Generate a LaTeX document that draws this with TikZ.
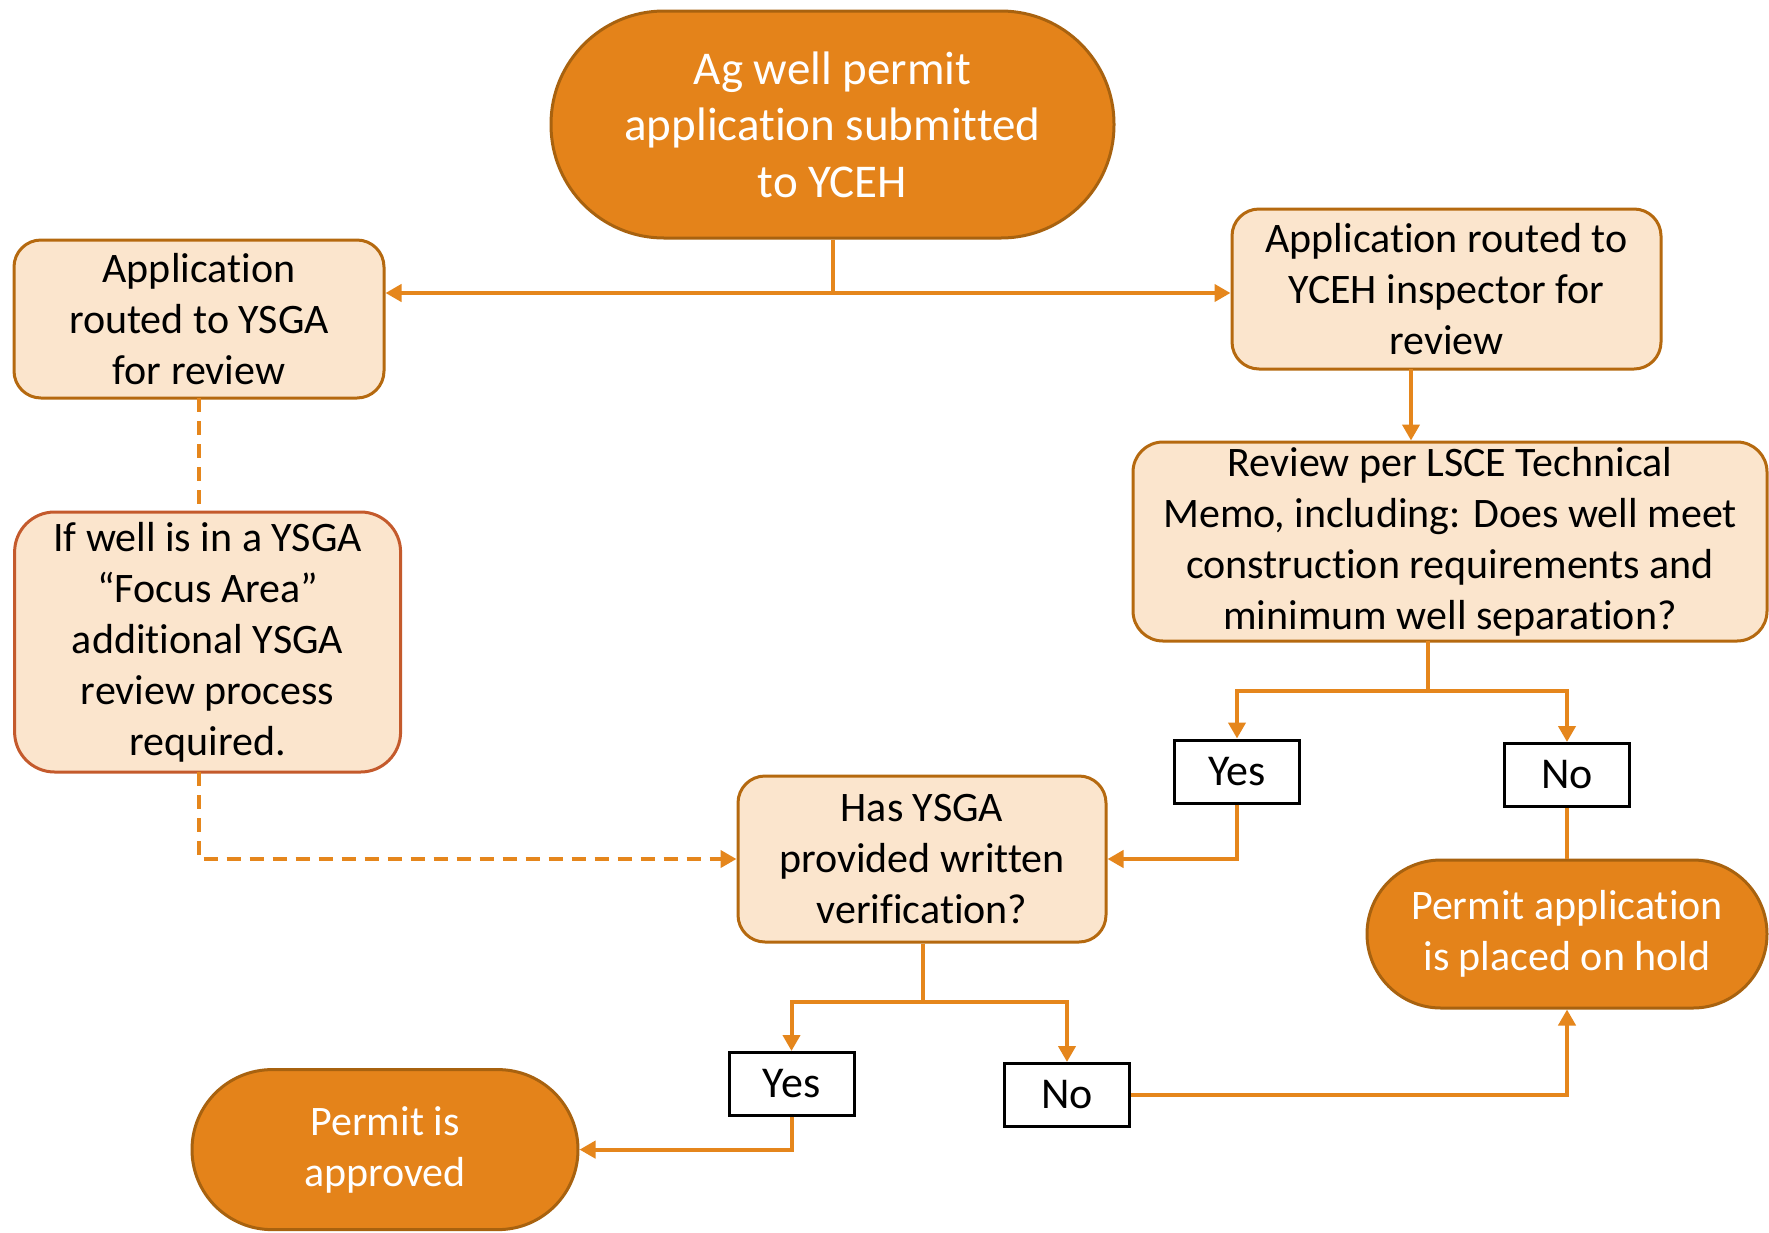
\documentclass[tikz,border=0pt]{standalone}
\usepackage{fontspec}
\setmainfont{Carlito}[Ligatures={TeX,NoCommon}]
\usetikzlibrary{arrows.meta}
\definecolor{orfill}{HTML}{E4831A}
\definecolor{orborder}{HTML}{A8620F}
\definecolor{peach}{HTML}{FBE5CD}
\definecolor{peachborder}{HTML}{B5690F}
\definecolor{redborder}{HTML}{C45A2C}
\definecolor{conn}{HTML}{E5861C}
\begin{document}
\begin{tikzpicture}[x=1pt,y=-1pt,
  term/.style={draw=orborder, fill=orfill, line width=3pt, text=white, align=center, inner sep=0pt},
  proc/.style={draw=peachborder, fill=peach, line width=3pt, rounded corners=27pt, align=center, inner sep=0pt, font=\fontsize{42}{51}\selectfont},
  lab/.style={draw=black, fill=white, line width=3pt, inner sep=0pt, minimum width=125pt, minimum height=63pt, font=\fontsize{44}{50}\selectfont},
  arr/.style={draw=conn, line width=4pt, -{Triangle[length=16pt,width=17pt]}},
  ln/.style={draw=conn, line width=4pt},
  dsh/.style={draw=conn, line width=4pt, dash pattern=on 14pt off 9pt}]
\useasboundingbox (0,0) rectangle (1769,1232);
\fill[white] (0,0) rectangle (1769,1232);

\node[term, minimum width=563pt, minimum height=227pt, rounded corners=113pt, font=\fontsize{47}{56.5}\selectfont] (start) at (832.5,124.5) {Ag well permit\\application submitted\\to YCEH};

\node[proc, minimum width=370pt, minimum height=158pt] (ysga) at (199,319) {Application\\routed to YSGA\\for review};
\node[proc, minimum width=429pt, minimum height=160pt] (yceh) at (1446.5,289) {Application routed to\\YCEH inspector for\\review};
\node[proc, minimum width=634pt, minimum height=199pt, rounded corners=30pt] (lsce) at (1450,541.5) {Review per LSCE Technical\\Memo, including: Does well meet\\construction requirements and\\minimum well separation?};
\node[proc, draw=redborder, minimum width=386pt, minimum height=260pt, rounded corners=40pt] (focus) at (207.6,642) {If well is in a YSGA\\“Focus Area”\\additional YSGA\\review process\\required.};
\node[proc, minimum width=368pt, minimum height=166pt] (verif) at (922,859) {Has YSGA\\provided written\\verification?};

\node[lab] (yes1) at (1237,771.5) {Yes};
\node[lab] (no1) at (1567,775) {No};
\node[lab] (yes2) at (791.5,1084) {Yes};
\node[lab] (no2) at (1067,1095) {No};

\node[term, minimum width=400pt, minimum height=148pt, rounded corners=74pt, font=\fontsize{42}{51}\selectfont] (hold) at (1567,934) {Permit application\\is placed on hold};
\node[term, minimum width=386pt, minimum height=160pt, rounded corners=80pt, font=\fontsize{42}{51}\selectfont] (ok) at (385,1149.6) {Permit is\\approved};

\coordinate (j1) at (832.5,293);
\draw[ln] (start.south) -- (j1);
\draw[arr] (j1) -- (j1 -| ysga.east);
\draw[arr] (j1) -- (j1 -| yceh.west);

\coordinate (b1) at (1411,369);
\draw[arr] (b1) -- (b1 |- lsce.north);

\coordinate (c1) at (1428,641);
\coordinate (j2) at (1428,690.5);
\draw[ln] (c1) -- (j2);
\draw[arr] (j2) -| (yes1.north);
\draw[arr] (j2) -| (no1.north);

\draw[arr] (yes1.south) |- (verif.east);
\draw[ln] (no1.south) -- (hold.north);

\coordinate (d1) at (198.6,398);
\draw[dsh] (d1) -- (d1 |- focus.north);
\coordinate (d2) at (198.6,772);
\draw[dsh, -{Triangle[length=16pt,width=17pt]}] (d2) |- (verif.west);

\coordinate (j3) at (923,1002);
\draw[ln] (verif.south -| j3) -- (j3);
\draw[arr] (j3) -| (yes2.north);
\draw[arr] (j3) -| (no2.north);

\draw[arr] (yes2.south) |- (ok.east);
\draw[arr] (no2.east) -| (hold.south);
\end{tikzpicture}
\end{document}
